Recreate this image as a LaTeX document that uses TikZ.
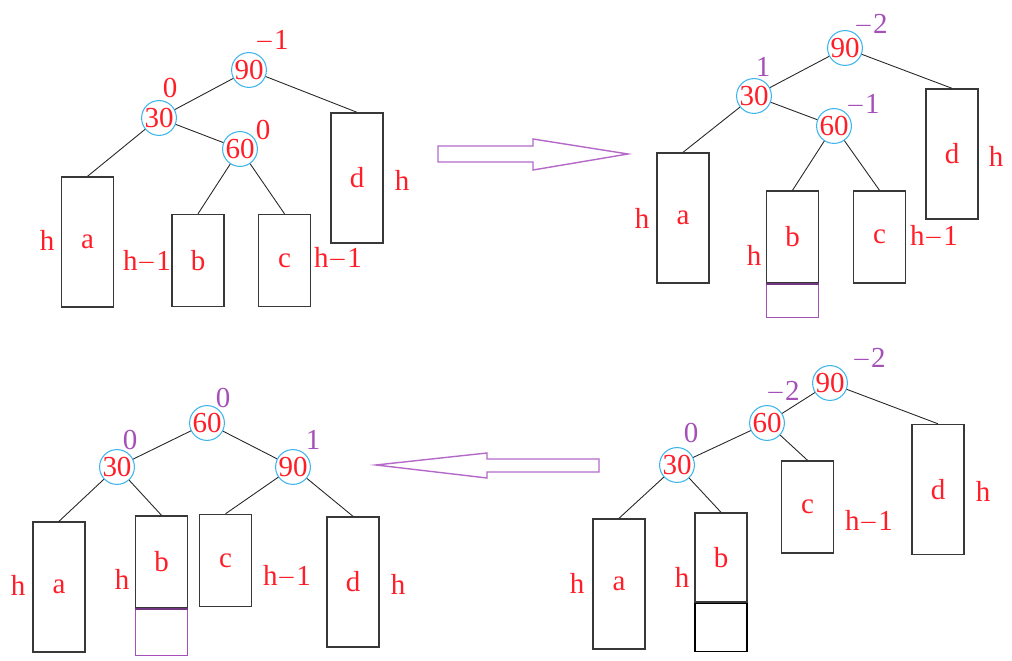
\documentclass[tikz,border=0pt]{standalone}
\usepackage{fontspec}
\setmainfont{Liberation Serif}
\usetikzlibrary{positioning}
\definecolor{keyred}{HTML}{FF1E28}
\definecolor{ringblue}{HTML}{3CB4EC}
\definecolor{balpurple}{HTML}{A450B8}
\definecolor{boxgray}{HTML}{383838}
\definecolor{arrowpurple}{HTML}{B468C8}
\newcommand{\mn}{\scalebox{0.8}[1]{$-$}}
\tikzset{
  labelfont/.style={font=\fontsize{16.5}{18}\selectfont},
  key/.style={
    circle,
    draw=ringblue,
    line width=0.6pt,
    minimum size=0.64cm,
    inner sep=0pt,
    text=keyred,
    labelfont
  },
  tallbox/.style={
    draw=boxgray,
    line width=0.8pt,
    minimum width=1.04cm,
    minimum height=2.6cm,
    inner sep=0pt,
    text=keyred,
    labelfont
  },
  shortbox/.style={
    tallbox,
    minimum height=1.84cm
  },
  growbox/.style={
    draw=balpurple,
    line width=0.8pt,
    minimum width=1.04cm,
    inner sep=0pt
  },
  bal/.style={text=keyred, labelfont},
  newbal/.style={bal, text=balpurple},
  hgt/.style={text=keyred, labelfont},
  edge/.style={draw=black!85, line width=0.5pt},
  bigarrow/.style={draw=arrowpurple, line width=0.8pt}
}

\begin{document}
\begin{tikzpicture}[x=0.02cm, y=-0.02cm]
  \useasboundingbox (0,0) rectangle (1012,661);

  % before insertion
  \node[key] (p1n90) at (249,70) {90};
  \node[key] (p1n30) at (159,118) {30};
  \node[key] (p1n60) at (240,149) {60};
  \node[tallbox] (p1a) at (87.5,242) {a};
  \node[shortbox] (p1b) at (198,260.5) {b};
  \node[shortbox] (p1c) at (284.5,260.5) {c};
  \node[tallbox] (p1d) at (357,178) {d};
  \node[bal] (p1b90) at (272,41) {\mn1};
  \node[bal] (p1b30) at (170,88) {0};
  \node[bal] (p1b60) at (263,130) {0};
  \node[hgt] (p1ha) at (47,240) {h};
  \node[hgt] (p1hb) at (147,262) {h\mn1};
  \node[hgt] (p1hc) at (338,259) {h\mn1};
  \node[hgt] (p1hd) at (402,180) {h};
  \draw[edge] (p1n90) -- (p1n30);
  \draw[edge] (p1n90) -- (p1d.north);
  \draw[edge] (p1n30) -- (p1a.north);
  \draw[edge] (p1n30) -- (p1n60);
  \draw[edge] (p1n60) -- (p1b.north);
  \draw[edge] (p1n60) -- (p1c.north);

  \draw[bigarrow] (438,146) -- (533,146) -- (533,139) -- (628,154)
    -- (533,170) -- (533,162) -- (438,162) -- cycle;

  % after insertion under b
  \node[key] (p2n90) at (845,48) {90};
  \node[key] (p2n30) at (754,96) {30};
  \node[key] (p2n60) at (834,126) {60};
  \node[tallbox] (p2a) at (683,218) {a};
  \node[shortbox] (p2b) at (792.5,237) {b};
  \node[shortbox] (p2c) at (879.5,237) {c};
  \node[tallbox] (p2d) at (952,154) {d};
  \node[growbox, minimum height=0.66cm, below=0pt of p2b] (p2x) {};
  \draw[balpurple!70!black, line width=1.1pt] (p2b.south west) -- (p2b.south east);
  \node[newbal] (p2b90) at (871,25) {\mn2};
  \node[newbal] (p2b30) at (763,67) {1};
  \node[newbal] (p2b60) at (863,105) {\mn1};
  \node[hgt] (p2ha) at (642,218) {h};
  \node[hgt] (p2hb) at (754,255) {h};
  \node[hgt] (p2hc) at (934,237) {h\mn1};
  \node[hgt] (p2hd) at (996,156) {h};
  \draw[edge] (p2n90) -- (p2n30);
  \draw[edge] (p2n90) -- (p2d.north);
  \draw[edge] (p2n30) -- (p2a.north);
  \draw[edge] (p2n30) -- (p2n60);
  \draw[edge] (p2n60) -- (p2b.north);
  \draw[edge] (p2n60) -- (p2c.north);

  % after right rotation at 60
  \node[key] (p4n90) at (830,383) {90};
  \node[key] (p4n60) at (767,423) {60};
  \node[key] (p4n30) at (677,465) {30};
  \node[tallbox] (p4a) at (619,584) {a};
  \node[shortbox, minimum height=1.78cm] (p4b) at (721,557.5) {b};
  \node[shortbox] (p4c) at (807.5,507) {c};
  \node[tallbox] (p4d) at (938,489.5) {d};
  \node[growbox, draw=black, minimum height=0.96cm, below=0pt of p4b] (p4x) {};
  \node[newbal] (p4b90) at (869,359) {\mn2};
  \node[newbal] (p4b60) at (783,392) {\mn2};
  \node[newbal] (p4b30) at (691,433) {0};
  \node[hgt] (p4ha) at (577,583) {h};
  \node[hgt] (p4hb) at (682,577) {h};
  \node[hgt] (p4hc) at (869,522) {h\mn1};
  \node[hgt] (p4hd) at (983,491) {h};
  \draw[edge] (p4n90) -- (p4n60);
  \draw[edge] (p4n90) -- (p4d.north);
  \draw[edge] (p4n60) -- (p4n30);
  \draw[edge] (p4n60) -- (p4c.north);
  \draw[edge] (p4n30) -- (p4a.north);
  \draw[edge] (p4n30) -- (p4b.north);

  \draw[bigarrow] (599,459) -- (487,459) -- (487,453) -- (376,465)
    -- (487,478) -- (487,472) -- (599,472) -- cycle;

  % after left rotation at 90
  \node[key] (p3n60) at (207,423) {60};
  \node[key] (p3n30) at (117,467) {30};
  \node[key] (p3n90) at (293,467) {90};
  \node[tallbox] (p3a) at (59,587) {a};
  \node[shortbox] (p3b) at (161.5,562) {b};
  \node[shortbox] (p3c) at (225.5,560.5) {c};
  \node[tallbox] (p3d) at (353,582) {d};
  \node[growbox, minimum height=0.92cm, below=0pt of p3b] (p3x) {};
  \draw[balpurple!70!black, line width=1.1pt] (p3b.south west) -- (p3b.south east);
  \node[newbal] (p3b60) at (223,398) {0};
  \node[newbal] (p3b30) at (130,440) {0};
  \node[newbal] (p3b90) at (313,440) {1};
  \node[hgt] (p3ha) at (18,585) {h};
  \node[hgt] (p3hb) at (122,579) {h};
  \node[hgt] (p3hc) at (287,577) {h\mn1};
  \node[hgt] (p3hd) at (398,584) {h};
  \draw[edge] (p3n60) -- (p3n30);
  \draw[edge] (p3n60) -- (p3n90);
  \draw[edge] (p3n30) -- (p3a.north);
  \draw[edge] (p3n30) -- (p3b.north);
  \draw[edge] (p3n90) -- (p3c.north);
  \draw[edge] (p3n90) -- (p3d.north);
\end{tikzpicture}
\end{document}
